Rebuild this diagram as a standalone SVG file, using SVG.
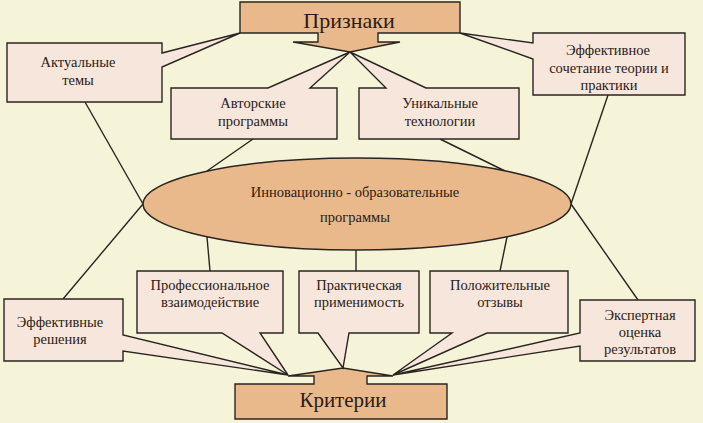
<svg xmlns="http://www.w3.org/2000/svg" width="703" height="423" viewBox="0 0 703 423">
<defs>
<style>
.bg{fill:#f6f4d8}
.box{fill:#f7e6dc;stroke:#2a2420;stroke-width:1.4;stroke-linejoin:miter}
.hub{fill:#e9b98b;stroke:#2a2420;stroke-width:1.4}
.ln{stroke:#2a2420;stroke-width:1.4;fill:none}
text{font-family:"Liberation Serif","Times New Roman",serif;fill:#2a1c14;text-anchor:middle}
.t{font-size:14.5px}
.big{font-size:22px}
</style>
</defs>
<rect class="bg" x="0" y="0" width="703" height="423"/>
<g id="connectors">
<line class="ln" x1="85" y1="102" x2="143" y2="204"/>
<line class="ln" x1="253" y1="139" x2="207" y2="171"/>
<line class="ln" x1="440" y1="139" x2="505" y2="171"/>
<line class="ln" x1="608" y1="95" x2="571" y2="204"/>
<line class="ln" x1="143" y1="204" x2="63" y2="299"/>
<line class="ln" x1="571" y1="204" x2="638" y2="300"/>
<line class="ln" x1="207" y1="237" x2="210" y2="271"/>
<line class="ln" x1="356" y1="250" x2="356" y2="271"/>
<line class="ln" x1="507" y1="237" x2="500" y2="271"/>
</g>
<g id="priznaki">
<path class="hub" d="M240,2 H460 V33 H378 V42 H400 L350,52 L293,42 H318 V33 H240 Z"/>
<text class="big" x="349" y="28">Признаки</text>
</g>
<g id="kriterii">
<path class="hub" d="M235,419 V384 H314 V376 H288 L343,368 L393,376 H367 V384 H447 V419 Z"/>
<text class="big" x="343" y="407" style="font-size:21px">Критерии</text>
</g>
<g id="innov">
<ellipse class="hub" cx="357" cy="204" rx="214" ry="46"/>
<text class="t" x="355" y="197">Инновационно - образовательные</text>
<text class="t" x="355" y="222">программы</text>
</g>
<g id="aktualnye">
<path class="box" d="M7,43 H162 V53 L240,33 L162,67 V102 H7 Z"/>
<text class="t" x="78" y="67">Актуальные</text>
<text class="t" x="78" y="85">темы</text>
</g>
<g id="avtorskie">
<path class="box" d="M171,88 H268 L350,52 L310,88 H337 V139 H171 Z"/>
<text class="t" x="253" y="108">Авторские</text>
<text class="t" x="253" y="126">программы</text>
</g>
<g id="unikalnye">
<path class="box" d="M359,88 H386 L350,52 L426,88 H519 V139 H359 Z"/>
<text class="t" x="440" y="108">Уникальные</text>
<text class="t" x="440" y="126">технологии</text>
</g>
<g id="sochetanie">
<path class="box" d="M533,33 H685 V95 H533 V59 L460,33 L533,43 Z"/>
<text class="t" x="608" y="55">Эффективное</text>
<text class="t" x="609" y="73">сочетание теории и</text>
<text class="t" x="609" y="90">практики</text>
</g>
<g id="professionalnoe">
<path class="box" d="M137,271 H283 V333 H260 L288,375 L222,333 H137 Z"/>
<text class="t" x="210" y="290">Профессиональное</text>
<text class="t" x="210" y="307">взаимодействие</text>
</g>
<g id="prakticheskaya">
<path class="box" d="M299,271 H419 V333 H349 L343,368 L318,333 H299 Z"/>
<text class="t" x="359" y="290">Практическая</text>
<text class="t" x="359" y="307">применимость</text>
</g>
<g id="polozhitelnye">
<path class="box" d="M430,271 H568 V333 H487 L393,375 L452,333 H430 Z"/>
<text class="t" x="500" y="290">Положительные</text>
<text class="t" x="500" y="307">отзывы</text>
</g>
<g id="resheniya">
<path class="box" d="M4,299 H123 V335 L288,375 L123,351 V361 H4 Z"/>
<text class="t" x="60" y="327">Эффективные</text>
<text class="t" x="60" y="344">решения</text>
</g>
<g id="ekspertnaya">
<path class="box" d="M580,300 H695 V361 H580 V346 L393,375 L580,333 Z"/>
<text class="t" x="640" y="320">Экспертная</text>
<text class="t" x="640" y="337">оценка</text>
<text class="t" x="640" y="354">результатов</text>
</g>
</svg>
